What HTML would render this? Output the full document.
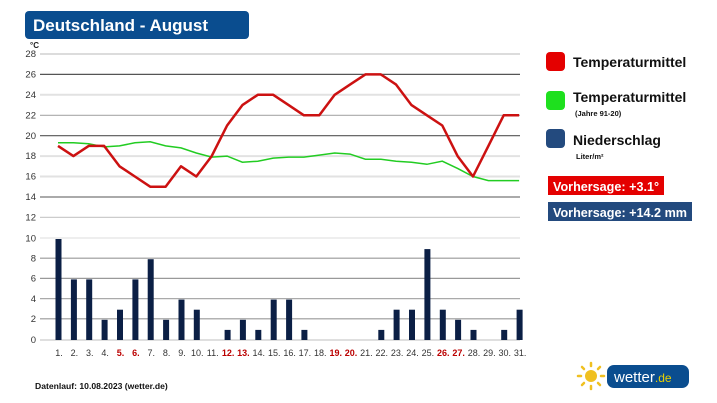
<!DOCTYPE html>
<html><head><meta charset="utf-8"><style>
body{margin:0;background:#fff;}
svg{display:block;font-family:"Liberation Sans",sans-serif;}
</style></head><body>
<svg width="717" height="403" viewBox="0 0 717 403" xmlns="http://www.w3.org/2000/svg">
<rect width="717" height="403" fill="#fff"/>
<rect x="25" y="11" width="224" height="28" rx="4" fill="#0a4d8f"/>
<text x="33" y="31" font-size="17" font-weight="bold" fill="#fff">Deutschland - August</text>
<text x="30" y="48" font-size="8" font-weight="bold" fill="#222">°C</text>
<g stroke-width="1.2">
<line x1="40" x2="520" y1="54" y2="54" stroke="#c8c8c8"/>
<line x1="40" x2="520" y1="74.4" y2="74.4" stroke="#555"/>
<line x1="40" x2="520" y1="94.8" y2="94.8" stroke="#e2e2e2" stroke-width="2"/>
<line x1="40" x2="520" y1="115.3" y2="115.3" stroke="#aaa"/>
<line x1="40" x2="520" y1="135.7" y2="135.7" stroke="#555"/>
<line x1="40" x2="520" y1="156.1" y2="156.1" stroke="#e2e2e2" stroke-width="2"/>
<line x1="40" x2="520" y1="176.5" y2="176.5" stroke="#e2e2e2" stroke-width="2"/>
<line x1="40" x2="520" y1="197" y2="197" stroke="#aaa" stroke-width="2"/>
<line x1="40" x2="520" y1="217.4" y2="217.4" stroke="#ccc"/>
<line x1="40" x2="520" y1="238" y2="238" stroke="#eee" stroke-width="2"/>
<line x1="40" x2="520" y1="258.2" y2="258.2" stroke="#999"/>
<line x1="40" x2="520" y1="278.4" y2="278.4" stroke="#999"/>
<line x1="40" x2="520" y1="298.6" y2="298.6" stroke="#aaa"/>
<line x1="40" x2="520" y1="318.8" y2="318.8" stroke="#999"/>
<line x1="40" x2="520" y1="340" y2="340" stroke="#ccc"/>
</g>
<g font-size="9.5" fill="#333" text-anchor="end">
<text x="36" y="57">28</text><text x="36" y="77.5">26</text><text x="36" y="98">24</text><text x="36" y="118.5">22</text><text x="36" y="139">20</text><text x="36" y="159">18</text><text x="36" y="179.5">16</text><text x="36" y="200">14</text><text x="36" y="220.5">12</text>
<text x="36" y="241.5">10</text><text x="36" y="261.5">8</text><text x="36" y="281.5">6</text><text x="36" y="302">4</text><text x="36" y="322">2</text><text x="36" y="343">0</text>
</g>
<polyline fill="none" stroke="#22cc22" stroke-width="1.5" points="58,142.8 73.4,142.8 88.7,143.8 104.1,146.9 119.5,145.9 134.9,142.8 150.2,141.8 165.6,145.9 181,147.9 196.3,153 211.7,157.1 227.1,156.1 242.4,162.2 257.8,161.2 273.2,158.1 288.6,157.1 303.9,157.1 319.3,155.1 334.7,153 350,154.1 365.4,159.2 380.8,159.2 396.1,161.2 411.5,162.2 426.9,164.3 442.3,161.2 457.6,168.4 473,176.5 488.4,180.6 503.7,180.6 519.1,180.6"/>
<polyline fill="none" stroke="#cc1111" stroke-width="2.5" stroke-linejoin="round" points="58,145.9 73.4,156.1 88.7,145.9 104.1,145.9 119.5,166.3 134.9,176.5 150.2,186.7 165.6,186.7 181,166.3 196.3,176.5 211.7,156.1 227.1,125.5 242.4,105.1 257.8,94.8 273.2,94.8 288.6,105.1 303.9,115.3 319.3,115.3 334.7,94.8 350,84.6 365.4,74.4 380.8,74.4 396.1,84.6 411.5,105.1 426.9,115.3 442.3,125.5 457.6,156.1 473,176.5 488.4,145.9 503.7,115.3 519.1,115.3"/>
<g fill="#0b1f45">
<rect x="55.5" y="239" width="6" height="101"/>
<rect x="70.9" y="279.4" width="6" height="60.6"/>
<rect x="86.2" y="279.4" width="6" height="60.6"/>
<rect x="101.6" y="319.8" width="6" height="20.2"/>
<rect x="117" y="309.7" width="6" height="30.3"/>
<rect x="132.4" y="279.4" width="6" height="60.6"/>
<rect x="147.7" y="259.2" width="6" height="80.8"/>
<rect x="163.1" y="319.8" width="6" height="20.2"/>
<rect x="178.5" y="299.6" width="6" height="40.4"/>
<rect x="193.8" y="309.7" width="6" height="30.3"/>
<rect x="224.6" y="329.9" width="6" height="10.1"/>
<rect x="239.9" y="319.8" width="6" height="20.2"/>
<rect x="255.3" y="329.9" width="6" height="10.1"/>
<rect x="270.7" y="299.6" width="6" height="40.4"/>
<rect x="286.1" y="299.6" width="6" height="40.4"/>
<rect x="301.4" y="329.9" width="6" height="10.1"/>
<rect x="378.3" y="329.9" width="6" height="10.1"/>
<rect x="393.6" y="309.7" width="6" height="30.3"/>
<rect x="409" y="309.7" width="6" height="30.3"/>
<rect x="424.4" y="249.1" width="6" height="90.9"/>
<rect x="439.8" y="309.7" width="6" height="30.3"/>
<rect x="455.1" y="319.8" width="6" height="20.2"/>
<rect x="470.5" y="329.9" width="6" height="10.1"/>
<rect x="501.2" y="329.9" width="6" height="10.1"/>
<rect x="516.6" y="309.7" width="6" height="30.3"/>
</g>
<g font-size="9" fill="#333" text-anchor="middle">
<text x="59" y="356">1.</text><text x="74.4" y="356">2.</text><text x="89.7" y="356">3.</text><text x="105.1" y="356">4.</text>
<text x="120.5" y="356" fill="#b00" font-weight="bold">5.</text><text x="135.9" y="356" fill="#b00" font-weight="bold">6.</text>
<text x="151.2" y="356">7.</text><text x="166.6" y="356">8.</text><text x="182" y="356">9.</text><text x="197.3" y="356">10.</text><text x="212.7" y="356">11.</text>
<text x="228.1" y="356" fill="#b00" font-weight="bold">12.</text><text x="243.4" y="356" fill="#b00" font-weight="bold">13.</text>
<text x="258.8" y="356">14.</text><text x="274.2" y="356">15.</text><text x="289.6" y="356">16.</text><text x="304.9" y="356">17.</text><text x="320.3" y="356">18.</text>
<text x="335.7" y="356" fill="#b00" font-weight="bold">19.</text><text x="351" y="356" fill="#b00" font-weight="bold">20.</text>
<text x="366.4" y="356">21.</text><text x="381.8" y="356">22.</text><text x="397.1" y="356">23.</text><text x="412.5" y="356">24.</text><text x="427.9" y="356">25.</text>
<text x="443.3" y="356" fill="#b00" font-weight="bold">26.</text><text x="458.6" y="356" fill="#b00" font-weight="bold">27.</text>
<text x="474" y="356">28.</text><text x="489.4" y="356">29.</text><text x="504.7" y="356">30.</text><text x="520.1" y="356">31.</text>
</g>
<text x="35" y="389" font-size="8.6" font-weight="bold" fill="#111">Datenlauf: 10.08.2023 (wetter.de)</text>
<rect x="546" y="52" width="19" height="19" rx="4" fill="#e40000"/>
<text x="573" y="67" font-size="14" font-weight="bold" fill="#111">Temperaturmittel</text>
<rect x="546" y="91" width="19" height="19" rx="4" fill="#1ee01e"/>
<text x="573" y="102" font-size="14" font-weight="bold" fill="#111">Temperaturmittel</text>
<text x="575" y="116" font-size="7.5" font-weight="bold" fill="#111">(Jahre 91-20)</text>
<rect x="546" y="129" width="19" height="19" rx="4" fill="#234a7e"/>
<text x="573" y="145" font-size="14" font-weight="bold" fill="#111">Niederschlag</text>
<text x="576" y="159" font-size="7.5" font-weight="bold" fill="#111">Liter/m²</text>
<rect x="548" y="176" width="116" height="19" fill="#e40000"/>
<text x="553" y="191" font-size="13" font-weight="bold" fill="#fff" textLength="106" lengthAdjust="spacingAndGlyphs">Vorhersage: +3.1°</text>
<rect x="548" y="202" width="144" height="19" fill="#234a7e"/>
<text x="553" y="217" font-size="13" font-weight="bold" fill="#fff" textLength="134" lengthAdjust="spacingAndGlyphs">Vorhersage: +14.2 mm</text>
<g stroke="#f0c020" stroke-width="2.5" stroke-linecap="round">
<line x1="591" y1="363" x2="591" y2="366"/><line x1="591" y1="386" x2="591" y2="389"/>
<line x1="578" y1="376" x2="581" y2="376"/><line x1="601" y1="376" x2="604" y2="376"/>
<line x1="582" y1="367" x2="584" y2="369"/><line x1="598" y1="383" x2="600" y2="385"/>
<line x1="582" y1="385" x2="584" y2="383"/><line x1="598" y1="369" x2="600" y2="367"/>
</g>
<circle cx="591" cy="376" r="6" fill="#f0c020"/>
<rect x="607" y="365" width="82" height="23" rx="7" fill="#0a4d8f"/>
<text x="614" y="382" font-size="15" fill="#fff">wetter<tspan fill="#e8d000" font-size="12">.de</tspan></text>
</svg>
</body></html>
